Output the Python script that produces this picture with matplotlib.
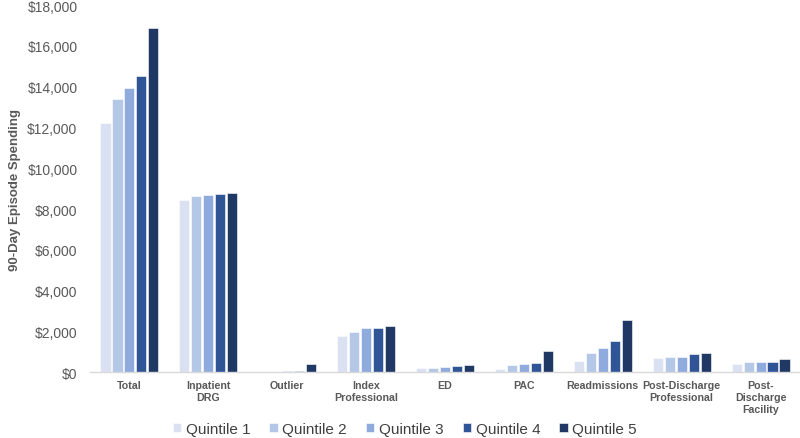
import numpy as np
import matplotlib
matplotlib.use("Agg")
import matplotlib.pyplot as plt
from matplotlib.ticker import FuncFormatter

plt.rcParams['font.family'] = ['Liberation Sans', 'DejaVu Sans']

categories = ["Total", "Inpatient\nDRG", "Outlier", "Index\nProfessional", "ED", "PAC",
              "Readmissions", "Post-Discharge\nProfessional", "Post-\nDischarge\nFacility"]
quintiles = ["Quintile 1", "Quintile 2", "Quintile 3", "Quintile 4", "Quintile 5"]

q1 = [12210, 8450, 0, 1780, 210, 150, 540, 690, 390]
q2 = [13390, 8650, 30, 1960, 220, 330, 960, 720, 490]
q3 = [13930, 8700, 50, 2160, 245, 380, 1190, 750, 490]
q4 = [14520, 8750, 60, 2150, 290, 430, 1520, 870, 520]
q5 = [16870, 8780, 420, 2250, 340, 1030, 2580, 920, 640]
series = [q1, q2, q3, q4, q5]

colors = ["#dae1f3", "#b4c7e7", "#8faadc", "#2f5597", "#203864"]

fig = plt.figure(figsize=(8, 4.39), dpi=100)
ax = fig.add_axes([0.1125, 0.150, 0.8875, 0.836])

x = np.arange(len(categories))
step = 0.152
width = 0.128
for i, vals in enumerate(series):
    ax.bar(x + (i - 2) * step, vals, width, color=colors[i], label=quintiles[i],
           edgecolor="white", linewidth=0.4)

ax.set_xlim(-0.5, len(categories) - 0.5)
ax.set_ylim(0, 18000)
ax.set_yticks(np.arange(0, 18001, 2000))
ax.yaxis.set_major_formatter(FuncFormatter(lambda v, p: "${:,.0f}".format(v)))
ax.set_xticks(x)
ax.set_xticklabels(categories, fontsize=7.7, fontweight="bold", color="#595959",
                   linespacing=1.25)
ax.tick_params(axis="y", labelsize=10, labelcolor="#595959", length=0, pad=9)
ax.tick_params(axis="x", length=0, pad=5.5)

for s in ["top", "right", "left"]:
    ax.spines[s].set_visible(False)
ax.spines["bottom"].set_color("#d9d9d9")
ax.spines["bottom"].set_linewidth(1.0)

ax.set_ylabel("90-Day Episode Spending", fontsize=9.5, fontweight="bold",
              color="#595959")
ax.yaxis.set_label_coords(-0.097, 0.5)

fig.legend(loc="center", bbox_to_anchor=(0.506, 0.02), ncol=5, frameon=False,
           fontsize=11, handlelength=0.55, handleheight=0.55, handletextpad=0.3,
           columnspacing=1.25, labelcolor="#404040")

fig.savefig("out.png", dpi=100)
